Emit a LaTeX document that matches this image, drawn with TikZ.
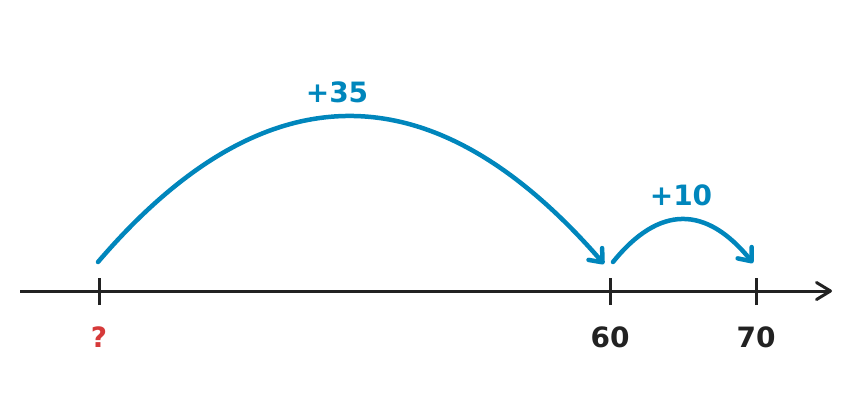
\documentclass[tikz,border=0pt]{standalone}
\usepackage{fontspec}
\setmainfont{DejaVu Sans}
\usetikzlibrary{arrows.meta}
\definecolor{jumpblue}{RGB}{0,134,188}
\definecolor{qred}{RGB}{214,58,58}
\definecolor{axisdark}{RGB}{34,34,34}
\tikzset{
  axisline/.style={draw=axisdark,line width=3pt,-{Straight Barb[length=14pt,width=17pt,line width=3pt,round]}},
  tickline/.style={draw=axisdark,line width=3pt},
  jump/.style={draw=jumpblue,line width=4.5pt,line cap=round,-{Straight Barb[length=11pt,width=18pt,line width=4.5pt,round]}},
  numlabel/.style={inner sep=0pt,font=\fontsize{28}{30}\selectfont\bfseries,text=axisdark},
  jumplabel/.style={inner sep=0pt,font=\fontsize{28}{30}\selectfont\bfseries,text=jumpblue}
}
\begin{document}
\begin{tikzpicture}[x=1pt,y=-1pt]
\useasboundingbox (0,0) rectangle (864,416);
% axis
\coordinate (axs) at (20,291);
\coordinate (axe) at (832,291);
\draw[axisline] (axs) -- (axe);
% ticks
\coordinate (tq) at (99,291);
\coordinate (t60) at (610,291);
\coordinate (t70) at (756,291);
\foreach \t in {tq,t60,t70}{
  \draw[tickline] ([yshift=-14pt]\t) -- ([yshift=13pt]\t);
}
% labels
\node[numlabel,text=qred] (lq) at (99,337) {?};
\node[numlabel] (l60) at (610,337) {60};
\node[numlabel] (l70) at (756,337) {70};
% jumps
\coordinate (j1s) at (98,262);
\coordinate (j1e) at (604,264);
\coordinate (j2s) at (613,262);
\coordinate (j2e) at (753,263);
\draw[jump] (j1s) .. controls (265,67) and (434,68) .. (j1e);
\draw[jump] (j2s) .. controls (659,205) and (706,205) .. (j2e);
\node[jumplabel] (p35) at (337,92) {+35};
\node[jumplabel] (p10) at (681,195) {+10};
\end{tikzpicture}
\end{document}
